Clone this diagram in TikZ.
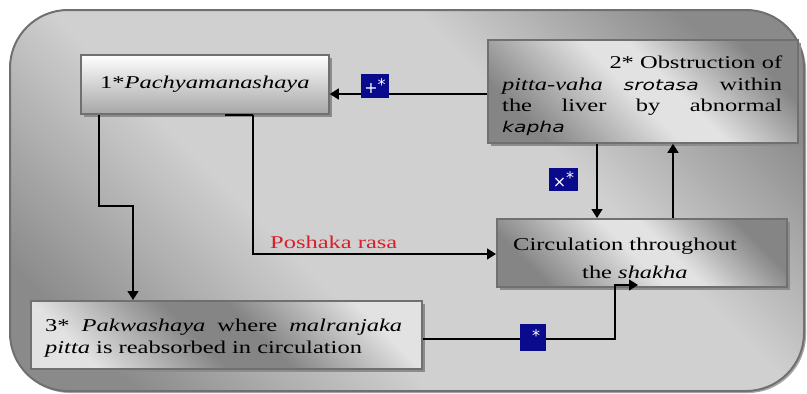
\documentclass[tikz,border=0pt]{standalone}
\usepackage{fontspec}
\setmainfont{Liberation Serif}[FakeStretch=1.36]
\newfontfamily\djfont{DejaVu Sans}[FakeStretch=1.36]
\newfontfamily\djplain{DejaVu Sans}
\usetikzlibrary{arrows.meta,shadows,calc}
\definecolor{dk}{HTML}{8A8A8A}
\definecolor{lt}{HTML}{D0D0D0}
\definecolor{blt}{HTML}{E2E2E2}
\definecolor{bdk}{HTML}{858585}
\definecolor{bdr}{HTML}{707070}
\definecolor{navy}{HTML}{0A0A8C}
\definecolor{pred}{HTML}{D8202A}
\pgfdeclarehorizontalshading{panelband}{100bp}{color(0bp)=(dk); color(22bp)=(dk); color(40bp)=(lt); color(62bp)=(lt); color(78bp)=(dk); color(100bp)=(dk)}
\pgfdeclarehorizontalshading{boxband}{100bp}{color(0bp)=(bdk); color(25bp)=(bdk); color(48bp)=(blt); color(56bp)=(blt); color(75bp)=(bdk); color(100bp)=(bdk)}
\pgfdeclarehorizontalshading{boxbandinv}{100bp}{color(0bp)=(blt); color(25bp)=(blt); color(45bp)=(bdk); color(55bp)=(bdk); color(75bp)=(blt); color(100bp)=(blt)}
\newcommand\myfs{\fontsize{18}{21.5}\selectfont}
\tikzset{
  box/.style={draw=bdr, line width=1.8pt, inner sep=0pt, anchor=north west,
    drop shadow={shadow xshift=3pt, shadow yshift=-3pt, fill=black!45, opacity=1}},
  diag/.style={shading=boxband, shading angle=45},
  lbl/.style={fill=navy, text=white, inner sep=0pt, font=\djplain\fontsize{16}{16}\selectfont},
  arr/.style={line width=1.4pt, -{Triangle[length=9pt,width=11pt]}},
  txt/.style={inner sep=0pt, font=\myfs, anchor=base west}
}
\begin{document}
\begin{tikzpicture}[x=1pt,y=-1pt]
\useasboundingbox (0,0) rectangle (807,394);
% outer panel
\path[draw=bdr, line width=2pt, rounded corners=58pt,
  shading=panelband, shading angle=45,
  drop shadow={shadow xshift=2pt, shadow yshift=-2pt, fill=black!35, opacity=1}]
  (10,10) rectangle (804,391);

% boxes
\node[box, top color=white, bottom color=gray!70, minimum width=248pt, minimum height=59pt,
  font=\myfs] (b1) at (80,54) {1*\textit{Pachyamanashaya}};
\node[box, diag, minimum width=310pt, minimum height=103pt] (b2) at (487,39) {};
\node[box, diag, minimum width=290pt, minimum height=68pt] (b3) at (496,218) {};
\node[box, shading=boxbandinv, shading angle=45,
  minimum width=391pt, minimum height=68pt] (b4) at (30,300) {};

% texts of box 2
\node[txt] (t2a) at (502,68) {\makebox[280pt][r]{2* Obstruction of}};
\node[txt] (t2b) at (502,90) {\makebox[280pt][s]{\textit{pitta-vaha} {\djfont\fontsize{15}{18}\selectfont\itshape srotasa} within}};
\node[txt] (t2c) at (502,111) {\makebox[280pt][s]{the liver by abnormal}};
\node[txt] (t2d) at (502,132) {{\djfont\fontsize{15}{18}\selectfont\itshape kapha}};
% texts of box 3
\node[txt] (t3a) at (513,250) {Circulation throughout};
\node[txt] (t3b) at (582,278) {the \textit{shakha}};
% texts of box 4
\node[txt] (t4a) at (45,331) {\makebox[357pt][s]{3* \textit{Pakwashaya} where \textit{malranjaka}}};
\node[txt] (t4b) at (45,353) {\textit{pitta} is reabsorbed in circulation};

% connectors
\coordinate (e3) at (638,285);
\draw[arr] (b2.west |- 0,94) -- (b1.east |- 0,94);
\draw[arr] (b2.south -| 597,0) -- (b3.north -| 597,0);
\draw[arr] (b3.north -| 673,0) -- (b2.south -| 673,0);
\draw[line width=1.4pt] (b1.south -| 225,0) -- (b1.south -| 253,0);
\draw[arr] (b1.south -| 253,0) |- (b3.west |- 0,254);
\draw[arr] (b1.south -| 99,0) -- (99,206) -| (b4.north -| 133,0);
\draw[arr] (b4.east |- 0,339) -| (615,285) -- (e3);

% labels
\node[txt, text=pred] (pr) at (270,248) {Poshaka rasa};
\node[lbl, minimum width=28pt, minimum height=24pt] (l1) at (375,86) {+\raisebox{3pt}{*}};
\node[lbl, minimum width=29pt, minimum height=23pt] (l2) at (563.5,179.5) {×\raisebox{4pt}{*}};
\node[lbl, minimum width=26pt, minimum height=27pt] (l3) at (533,337.5) {\hspace{6pt}\raisebox{3pt}{*}};
\end{tikzpicture}
\end{document}
